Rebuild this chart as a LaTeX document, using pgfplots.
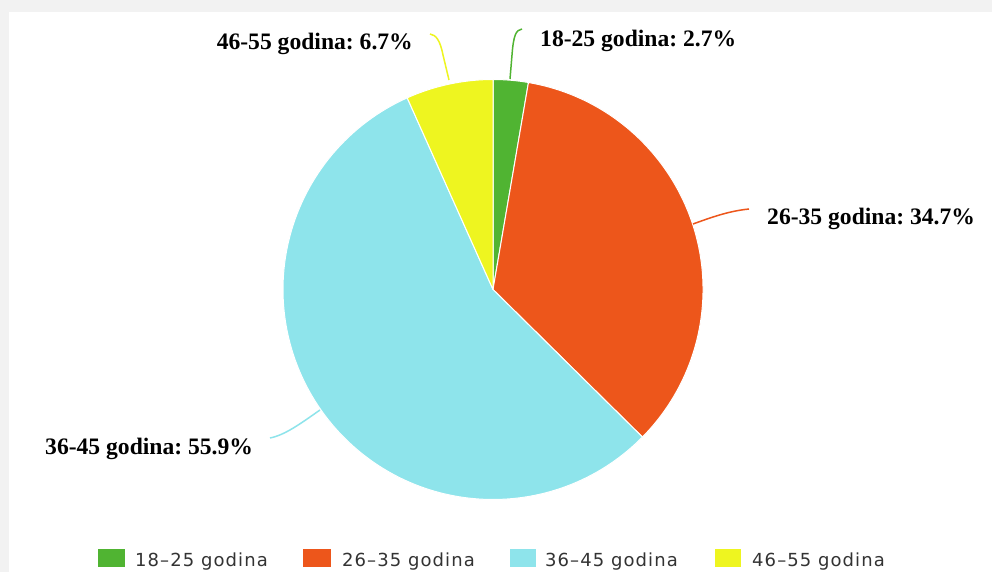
\documentclass[border=0pt]{standalone}
\usepackage{pgfplots}
\pgfplotsset{compat=1.18}
\usepackage{pgfplotstable}
\usepackage{fontspec}
\setmainfont{Liberation Serif}
\newfontfamily\legfont[LetterSpace=6]{DejaVu Sans}
\definecolor{cgreen}{HTML}{50B432}
\definecolor{corange}{HTML}{ED561B}
\definecolor{ccyan}{HTML}{8EE4EB}
\definecolor{cyellow}{HTML}{EEF520}
\definecolor{bandgray}{HTML}{F2F2F2}
\definecolor{legtext}{HTML}{333333}

\pgfplotstableread{
label value
18-25 2.7
26-35 34.7
36-45 55.9
46-55 6.7
}\piedata

\begin{document}
\frenchspacing
\begin{tikzpicture}
\begin{axis}[
  width=992pt, height=572pt, scale only axis,
  xmin=0, xmax=992, ymin=0, ymax=572,
  enlargelimits=false,
  hide axis, clip=false,
]
% card background
\fill[bandgray] (axis cs:0,0) rectangle (axis cs:992,572);
\fill[white] (axis cs:9,0) rectangle (axis cs:992,560);

% pie slices from the table
\gdef\angstart{90}
\foreach \i/\col in {0/cgreen,1/corange,2/ccyan,3/cyellow}{
  \pgfplotstablegetelem{\i}{value}\of\piedata
  \pgfmathsetmacro{\angend}{\angstart-3.6*\pgfplotsretval}
  \edef\temp{\noexpand\fill[\col, draw=white, line width=1pt, line join=round]
    (axis cs:493,282.5) -- ++(\angstart:210pt)
    arc[start angle=\angstart, end angle=\angend, radius=210pt] -- cycle;}
  \temp
  \xdef\angstart{\angend}
}

% connectors
\draw[cgreen, line width=1.5pt] (axis cs:510,493) -- (axis cs:512,517)
  .. controls (axis cs:513.5,537) and (axis cs:516,542) .. (axis cs:522,543);
\draw[cyellow, line width=1.5pt] (axis cs:449,492) -- (axis cs:443,517)
  .. controls (axis cs:440,532) and (axis cs:436,537) .. (axis cs:430,538);
\draw[ccyan, line width=1.5pt] (axis cs:320,162)
  .. controls (axis cs:300,148) and (axis cs:285,137) .. (axis cs:270,134);
\draw[corange, line width=1.5pt] (axis cs:693,348)
  .. controls (axis cs:715,356) and (axis cs:730,361) .. (axis cs:749,363);

% data labels
\node[anchor=base west, inner sep=0, font=\fontsize{23.6}{27}\selectfont\bfseries] at (axis cs:540,525) {18-25 godina: 2.7\%};
\node[anchor=base east, inner sep=0, font=\fontsize{23.6}{27}\selectfont\bfseries] at (axis cs:413,522) {46-55 godina: 6.7\%};
\node[anchor=base west, inner sep=0, font=\fontsize{23.6}{27}\selectfont\bfseries] at (axis cs:767,347) {26-35 godina: 34.7\%};
\node[anchor=base west, inner sep=0, font=\fontsize{23.6}{27}\selectfont\bfseries] at (axis cs:45,117) {36-45 godina: 55.9\%};

% legend
\fill[cgreen] (axis cs:98,5) rectangle (axis cs:125,23);
\fill[corange] (axis cs:303,5) rectangle (axis cs:331,23);
\fill[ccyan] (axis cs:510,5) rectangle (axis cs:536,23);
\fill[cyellow] (axis cs:715,5) rectangle (axis cs:741,23);
\node[anchor=base west, inner sep=0, text=legtext, font=\legfont\fontsize{18}{20}\selectfont] at (axis cs:135,5.3) {18–25 godina};
\node[anchor=base west, inner sep=0, text=legtext, font=\legfont\fontsize{18}{20}\selectfont] at (axis cs:342,5.3) {26–35 godina};
\node[anchor=base west, inner sep=0, text=legtext, font=\legfont\fontsize{18}{20}\selectfont] at (axis cs:545,5.3) {36–45 godina};
\node[anchor=base west, inner sep=0, text=legtext, font=\legfont\fontsize{18}{20}\selectfont] at (axis cs:752,5.3) {46–55 godina};
\end{axis}
\end{tikzpicture}
\end{document}
